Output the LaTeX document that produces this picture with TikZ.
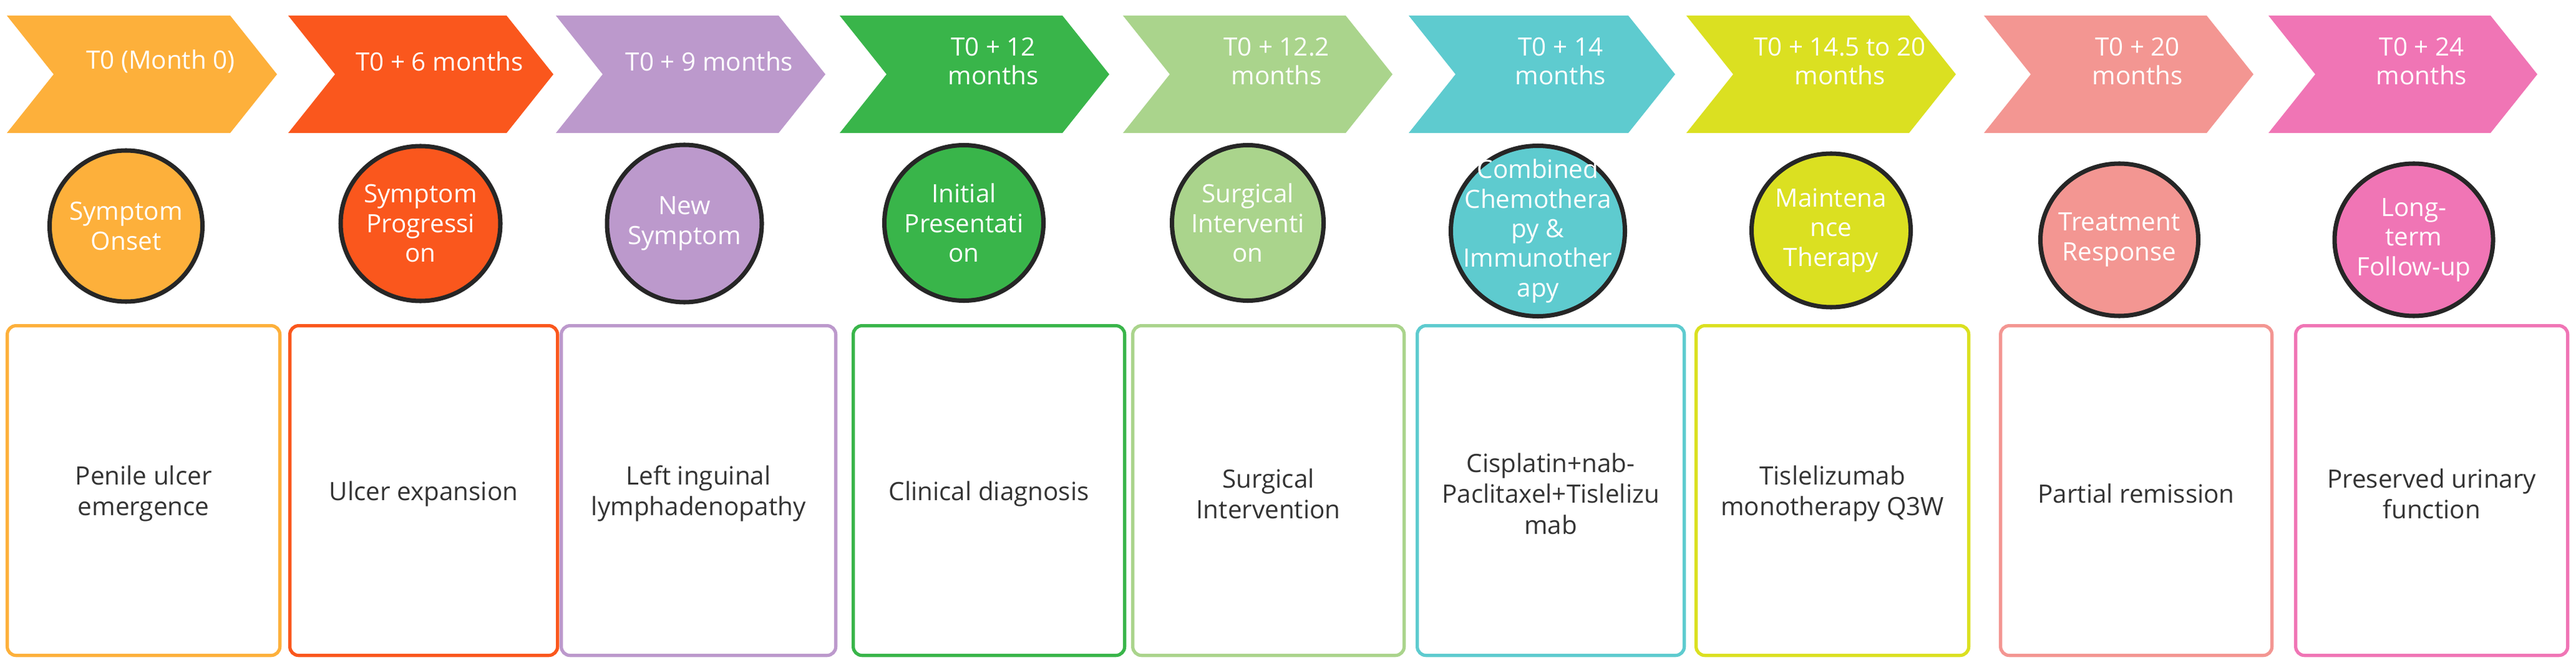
\documentclass[tikz,border=0pt]{standalone}
\usepackage{fontspec}
\setmainfont{Open Sans}
\usetikzlibrary{shapes.geometric, calc}

\definecolor{c1}{RGB}{253, 176, 59}
\definecolor{c2}{RGB}{250, 87, 29}
\definecolor{c3}{RGB}{188, 153, 204}
\definecolor{c4}{RGB}{57, 181, 74}
\definecolor{c5}{RGB}{170, 212, 140}
\definecolor{c6}{RGB}{94, 203, 207}
\definecolor{c7}{RGB}{219, 224, 33}
\definecolor{c8}{RGB}{243, 150, 146}
\definecolor{c9}{RGB}{240, 117, 181}
\definecolor{boxtext}{RGB}{51, 51, 51}

\tikzset{
    stagetext/.style={text=white, font=\fontsize{11.5}{13}\selectfont, align=center},
    event/.style={ellipse, draw=black!85, line width=2pt, inner sep=0pt},
    eventtext/.style={text=white, align=center, font=\fontsize{11.5}{13.5}\selectfont},
    detail/.style={draw, rounded corners=4pt, line width=1.5pt, anchor=north west}
}

\begin{document}
\begin{tikzpicture}
    \useasboundingbox (0,0) rectangle (41.29,-10.57);

    % Chevrons with time points
    \foreach \n/\xa/\xb/\lbl in {1/0.11/4.44/{T0 (Month 0)}, 2/4.62/8.87/{T0 + 6 months},
        3/8.91/13.23/{T0 + 9 months}, 4/13.46/17.78/{T0 + 12\\months},
        5/18.00/22.32/{T0 + 12.2\\months}, 6/22.58/26.85/{T0 + 14\\months},
        7/27.03/31.35/{T0 + 14.5 to 20\\months}, 8/31.80/36.12/{T0 + 20\\months},
        9/36.36/40.67/{T0 + 24\\months}}
    {
        \fill[c\n] (\xa,-0.25) -- ({\xb-0.75},-0.25) -- (\xb,-1.19) -- ({\xb-0.75},-2.13)
            -- (\xa,-2.13) -- ({\xa+0.75},-1.19) -- cycle;
        \node[stagetext] (time\n) at ({(\xa+\xb)/2+0.3},-0.98) {\lbl};
    }

    % Events
    \foreach \n/\x/\y/\w/\h/\txt in {1/2.02/3.62/2.45/2.42/{Symptom\\Onset},
        2/6.74/3.58/2.56/2.48/{Symptom\\Progressi\\on},
        3/10.97/3.58/2.48/2.52/{New\\Symptom},
        4/15.45/3.57/2.55/2.49/{Initial\\Presentati\\on},
        5/20.00/3.57/2.43/2.49/{Surgical\\Interventi\\on},
        6/24.65/3.70/2.79/2.73/{Combined\\Chemothera\\py \&\\Immunother\\apy},
        7/29.35/3.69/2.55/2.46/{Maintena\\nce\\Therapy},
        8/33.97/3.84/2.53/2.44/{Treatment\\Response},
        9/38.69/3.84/2.54/2.44/{Long-\\term\\Follow-up}}
    {
        \node[event, fill=c\n, minimum width=\w cm, minimum height=\h cm] (ev\n) at (\x,-\y) {};
        \node[eventtext] (evtxt\n) at (ev\n.center) {\txt};
    }

    % Detail boxes
    \foreach \n/\xa/\xb/\txt in {1/0.09/4.46/{Penile ulcer\\emergence}, 2/4.62/8.91/{Ulcer expansion},
        3/8.97/13.37/{Left inguinal\\lymphadenopathy}, 4/13.65/18.00/{Clinical diagnosis},
        5/18.13/22.48/{Surgical\\Intervention}, 6/22.69/26.97/{Cisplatin+nab-\\Paclitaxel+Tislelizu\\mab},
        7/27.16/31.53/{Tislelizumab\\monotherapy Q3W}, 8/32.04/36.39/{Partial remission},
        9/36.77/41.13/{Preserved urinary\\function}}
    {
        \node[detail, draw=c\n, minimum width={(\xb-\xa)*1cm}, minimum height=5.28cm] (box\n) at (\xa,-5.19) {};
        \node[text=boxtext, align=center, font=\fontsize{11.5}{14}\selectfont] (desc\n) at ($(box\n.center)+(0,-0.05)$) {\txt};
    }
\end{tikzpicture}
\end{document}
